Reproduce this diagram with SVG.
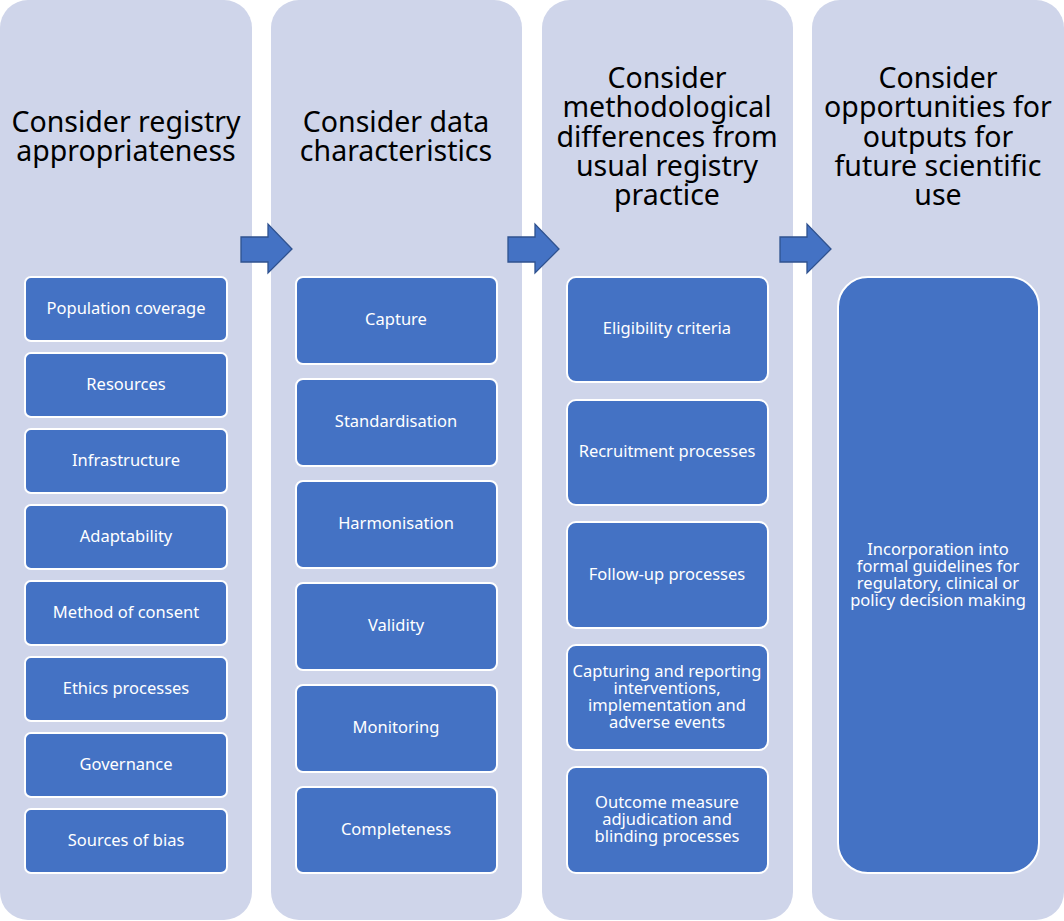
<svg xmlns="http://www.w3.org/2000/svg" width="1064" height="921" viewBox="0 0 1064 921">
<style>
.col{fill:#CFD5EA}
.box{fill:#4472C4;stroke:#FFFFFF;stroke-width:2}
.arr{fill:#4472C4;stroke:#2F528F;stroke-width:1.3}
.t{font-family:"Noto Sans","Open Sans",sans-serif;fill:#000;font-size:28.5px;text-anchor:middle}
.b{font-family:"Noto Sans","Open Sans",sans-serif;fill:#FFFFFF;font-size:16.5px;text-anchor:middle}
</style>
<rect width="1064" height="921" fill="#FFFFFF"/>
<g id="col1">
<rect class="col" x="0" y="0" width="252" height="920" rx="28"/>
<text class="t" x="126" y="132">Consider registry</text>
<text class="t" x="126" y="161">appropriateness</text>
</g>
<g id="col2">
<rect class="col" x="271" y="0" width="251" height="920" rx="28"/>
<text class="t" x="396" y="132">Consider data</text>
<text class="t" x="396" y="161">characteristics</text>
</g>
<g id="col3">
<rect class="col" x="542" y="0" width="251" height="920" rx="28"/>
<text class="t" x="667" y="88">Consider</text>
<text class="t" x="667" y="117">methodological</text>
<text class="t" x="667" y="147">differences from</text>
<text class="t" x="667" y="176">usual registry</text>
<text class="t" x="667" y="205">practice</text>
</g>
<g id="col4">
<rect class="col" x="812" y="0" width="252" height="920" rx="28"/>
<text class="t" x="938" y="88">Consider</text>
<text class="t" x="938" y="117">opportunities for</text>
<text class="t" x="938" y="147">outputs for</text>
<text class="t" x="938" y="176">future scientific</text>
<text class="t" x="938" y="205">use</text>
</g>
<g id="connectors">
<path class="arr" d="M241,237 H268 V224 L292,249 L268,273 V262 H241 Z"/>
<path class="arr" d="M508,237 H535 V224 L559,249 L535,273 V262 H508 Z"/>
<path class="arr" d="M780,237 H807 V224 L831,249 L807,273 V262 H780 Z"/>
</g>
<g id="n-population">
<rect class="box" x="25" y="277" width="202" height="64" rx="6"/>
<text class="b" x="126" y="314">Population coverage</text>
</g>
<g id="n-resources">
<rect class="box" x="25" y="353" width="202" height="64" rx="6"/>
<text class="b" x="126" y="390">Resources</text>
</g>
<g id="n-infrastructure">
<rect class="box" x="25" y="429" width="202" height="64" rx="6"/>
<text class="b" x="126" y="466">Infrastructure</text>
</g>
<g id="n-adaptability">
<rect class="box" x="25" y="505" width="202" height="64" rx="6"/>
<text class="b" x="126" y="542">Adaptability</text>
</g>
<g id="n-consent">
<rect class="box" x="25" y="581" width="202" height="64" rx="6"/>
<text class="b" x="126" y="618">Method of consent</text>
</g>
<g id="n-ethics">
<rect class="box" x="25" y="657" width="202" height="64" rx="6"/>
<text class="b" x="126" y="694">Ethics processes</text>
</g>
<g id="n-governance">
<rect class="box" x="25" y="733" width="202" height="64" rx="6"/>
<text class="b" x="126" y="770">Governance</text>
</g>
<g id="n-bias">
<rect class="box" x="25" y="809" width="202" height="64" rx="6"/>
<text class="b" x="126" y="846">Sources of bias</text>
</g>
<g id="n-capture">
<rect class="box" x="296" y="277" width="201" height="87" rx="7"/>
<text class="b" x="396" y="325">Capture</text>
</g>
<g id="n-standardisation">
<rect class="box" x="296" y="379" width="201" height="87" rx="7"/>
<text class="b" x="396" y="427">Standardisation</text>
</g>
<g id="n-harmonisation">
<rect class="box" x="296" y="481" width="201" height="87" rx="7"/>
<text class="b" x="396" y="529">Harmonisation</text>
</g>
<g id="n-validity">
<rect class="box" x="296" y="583" width="201" height="87" rx="7"/>
<text class="b" x="396" y="631">Validity</text>
</g>
<g id="n-monitoring">
<rect class="box" x="296" y="685" width="201" height="87" rx="7"/>
<text class="b" x="396" y="733">Monitoring</text>
</g>
<g id="n-completeness">
<rect class="box" x="296" y="787" width="201" height="86" rx="7"/>
<text class="b" x="396" y="835">Completeness</text>
</g>
<g id="n-eligibility">
<rect class="box" x="567" y="277" width="201" height="105" rx="9"/>
<text class="b" x="667" y="334">Eligibility criteria</text>
</g>
<g id="n-recruitment">
<rect class="box" x="567" y="400" width="201" height="105" rx="9"/>
<text class="b" x="667" y="457">Recruitment processes</text>
</g>
<g id="n-followup">
<rect class="box" x="567" y="522" width="201" height="106" rx="9"/>
<text class="b" x="667" y="580">Follow-up processes</text>
</g>
<g id="n-capturing">
<rect class="box" x="567" y="645" width="201" height="105" rx="9"/>
<text class="b" x="667" y="677">Capturing and reporting</text>
<text class="b" x="667" y="694">interventions,</text>
<text class="b" x="667" y="711">implementation and</text>
<text class="b" x="667" y="728">adverse events</text>
</g>
<g id="n-outcome">
<rect class="box" x="567" y="767" width="201" height="106" rx="9"/>
<text class="b" x="667" y="808">Outcome measure</text>
<text class="b" x="667" y="825">adjudication and</text>
<text class="b" x="667" y="842">blinding processes</text>
</g>
<g id="n-incorporation">
<rect class="box" x="838" y="277" width="201" height="596" rx="30"/>
<text class="b" x="938" y="555">Incorporation into</text>
<text class="b" x="938" y="572">formal guidelines for</text>
<text class="b" x="938" y="589">regulatory, clinical or</text>
<text class="b" x="938" y="606">policy decision making</text>
</g>
</svg>
